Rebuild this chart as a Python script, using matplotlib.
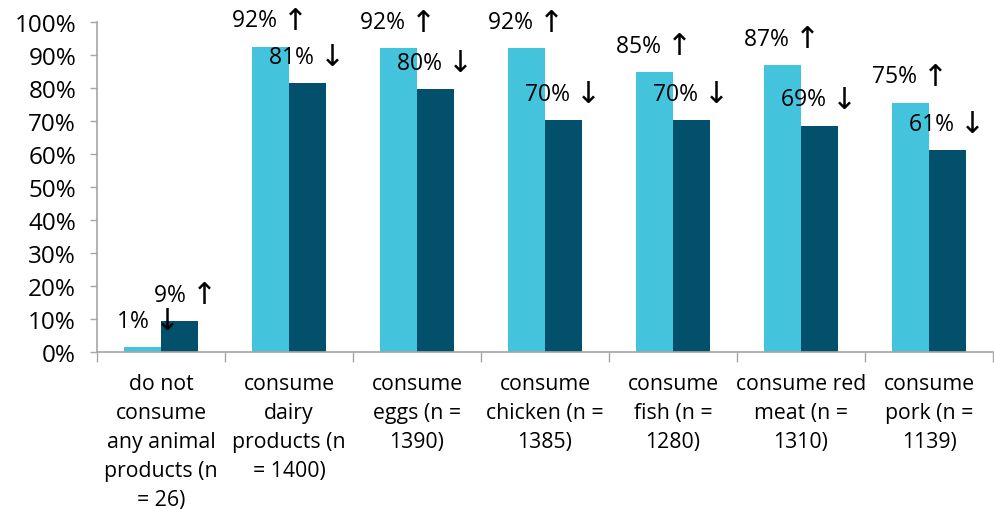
import numpy as np
import matplotlib
matplotlib.use("Agg")
import matplotlib.pyplot as plt
from matplotlib.ticker import FuncFormatter

plt.rcParams['font.family'] = ['Open Sans', 'DejaVu Sans']

categories = [
    "do not\nconsume\nany animal\nproducts (n\n= 26)",
    "consume\ndairy\nproducts (n\n= 1400)",
    "consume\neggs (n =\n1390)",
    "consume\nchicken (n =\n1385)",
    "consume\nfish (n =\n1280)",
    "consume red\nmeat (n =\n1310)",
    "consume\npork (n =\n1139)",
]
light_vals = [1.5, 92.5, 92.0, 92.0, 84.8, 87.0, 75.5]
dark_vals = [9.4, 81.5, 79.7, 70.3, 70.3, 68.6, 61.2]
light_labels = ["1% \u2193", "92% \u2191", "92% \u2191", "92% \u2191", "85% \u2191", "87% \u2191", "75% \u2191"]
dark_labels = ["9% \u2191", "81% \u2193", "80% \u2193", "70% \u2193", "70% \u2193", "69% \u2193", "61% \u2193"]

light_color = "#43C4DC"
dark_color = "#02506B"
axis_gray = "#A6A6A6"

fig = plt.figure(figsize=(9.94, 5.10), dpi=100)
ax = fig.add_axes([97 / 994, 1 - 353 / 510, 896 / 994, 330 / 510])

x = np.arange(len(categories))
w = 0.29
b1 = ax.bar(x - w / 2, light_vals, width=w, color=light_color)
b2 = ax.bar(x + w / 2, dark_vals, width=w, color=dark_color)

fs = 16.5


def bar_label(rect, lab):
    num, arrow = lab.split(" ")
    xc = rect.get_x() + rect.get_width() / 2
    y = rect.get_height() + 8
    ax.annotate(num + " ", (xc, y), xytext=(9, 0), textcoords="offset points",
                ha="right", va="center", fontsize=fs, color="black",
                annotation_clip=False)
    ax.annotate(arrow, (xc, y), xytext=(9, 0), textcoords="offset points",
                ha="left", va="center", fontsize=fs + 5, color="black",
                family="DejaVu Sans", annotation_clip=False)


for rect, lab in zip(b1, light_labels):
    bar_label(rect, lab)
for rect, lab in zip(b2, dark_labels):
    bar_label(rect, lab)

ax.set_xlim(-0.5, len(categories) - 0.5)
ax.set_ylim(0, 100)
ax.set_yticks(np.arange(0, 101, 10))
ax.yaxis.set_major_formatter(FuncFormatter(lambda v, p: f"{int(v)}%"))

# category boundaries as tick marks, labels at centers
ax.set_xticks(np.arange(-0.5, len(categories), 1.0))
ax.set_xticklabels([])
ax.set_xticks(x, minor=True)
ax.set_xticklabels(categories, minor=True, fontsize=15.3, linespacing=1.5)
ax.tick_params(axis="x", which="minor", length=0, pad=15)
ax.tick_params(axis="x", which="major", length=7, color=axis_gray, width=1)
ax.tick_params(axis="y", length=5, color=axis_gray, width=1, labelsize=17.5, pad=10)

for s in ["top", "right"]:
    ax.spines[s].set_visible(False)
for s in ["left", "bottom"]:
    ax.spines[s].set_color(axis_gray)
    ax.spines[s].set_linewidth(1.2)

fig.savefig("out.png", dpi=100)
